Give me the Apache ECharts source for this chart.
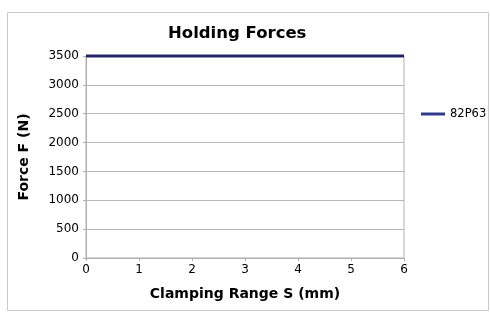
<!DOCTYPE html>
<html><head><meta charset="utf-8">
<script src="https://cdn.jsdelivr.net/npm/echarts@6/dist/echarts.min.js"></script>
<style>html,body{margin:0;padding:0;background:#fff}#c{width:490px;height:318px}</style>
</head><body><div id="c"></div>
<script>
const seriesName = '82P63';
const xValues = [0, 1, 2, 3, 4, 5, 6];
const forceValues = [3500, 3500, 3500, 3500, 3500, 3500, 3500];
const FONT = 'DejaVu Sans';
const chart = echarts.init(document.getElementById('c'));
chart.setOption({
  animation: false,
  textStyle: {fontFamily: FONT},
  title: {text: 'Holding Forces', left: 163, top: 20, textStyle: {fontFamily: FONT, fontSize: 16.5, fontWeight: 'bold', color: '#000'}},
  graphic: [{type: 'rect', shape: {x: 7.5, y: 12.5, width: 481, height: 298}, style: {fill: 'none', stroke: '#c8c8c8', lineWidth: 1}, silent: true}],
  legend: {data: [{name: seriesName, icon: 'rect', itemStyle: {color: '#2e3b8f'}}], left: 416, top: 103, itemWidth: 24, itemHeight: 3, itemGap: 4, textStyle: {fontFamily: FONT, fontSize: 11.5, color: '#000'}},
  grid: {left: 86, right: 86, top: 56, bottom: 60, show: true, borderColor: '#b0b0b0', borderWidth: 1},
  xAxis: {type: 'value', min: 0, max: 6, interval: 1, name: 'Clamping Range S (mm)', nameLocation: 'middle', nameGap: 29,
    nameTextStyle: {fontFamily: FONT, fontSize: 14, fontWeight: 'bold', color: '#000'},
    axisLine: {show: true, lineStyle: {color: '#b0b0b0'}}, axisTick: {show: true, length: 3, lineStyle: {color: '#b0b0b0'}},
    axisLabel: {color: '#000', fontSize: 12, margin: 6}, splitLine: {show: false}},
  yAxis: {type: 'value', min: 0, max: 3500, interval: 500, name: 'Force F (N)', nameLocation: 'middle', nameGap: 55,
    nameTextStyle: {fontFamily: FONT, fontSize: 14, fontWeight: 'bold', color: '#000'},
    axisLine: {show: true, lineStyle: {color: '#b0b0b0'}}, axisTick: {show: true, length: 3, lineStyle: {color: '#b0b0b0'}},
    axisLabel: {color: '#000', fontSize: 12, margin: 7, formatter: v => String(v)}, splitLine: {show: true, lineStyle: {color: '#b8b8b8'}}},
  series: [{name: seriesName, type: 'line', data: xValues.map((x, i) => [x, forceValues[i]]), showSymbol: false, clip: false,
    lineStyle: {color: '#232766', width: 3}, itemStyle: {color: '#232766'}}]
});
</script></body></html>
